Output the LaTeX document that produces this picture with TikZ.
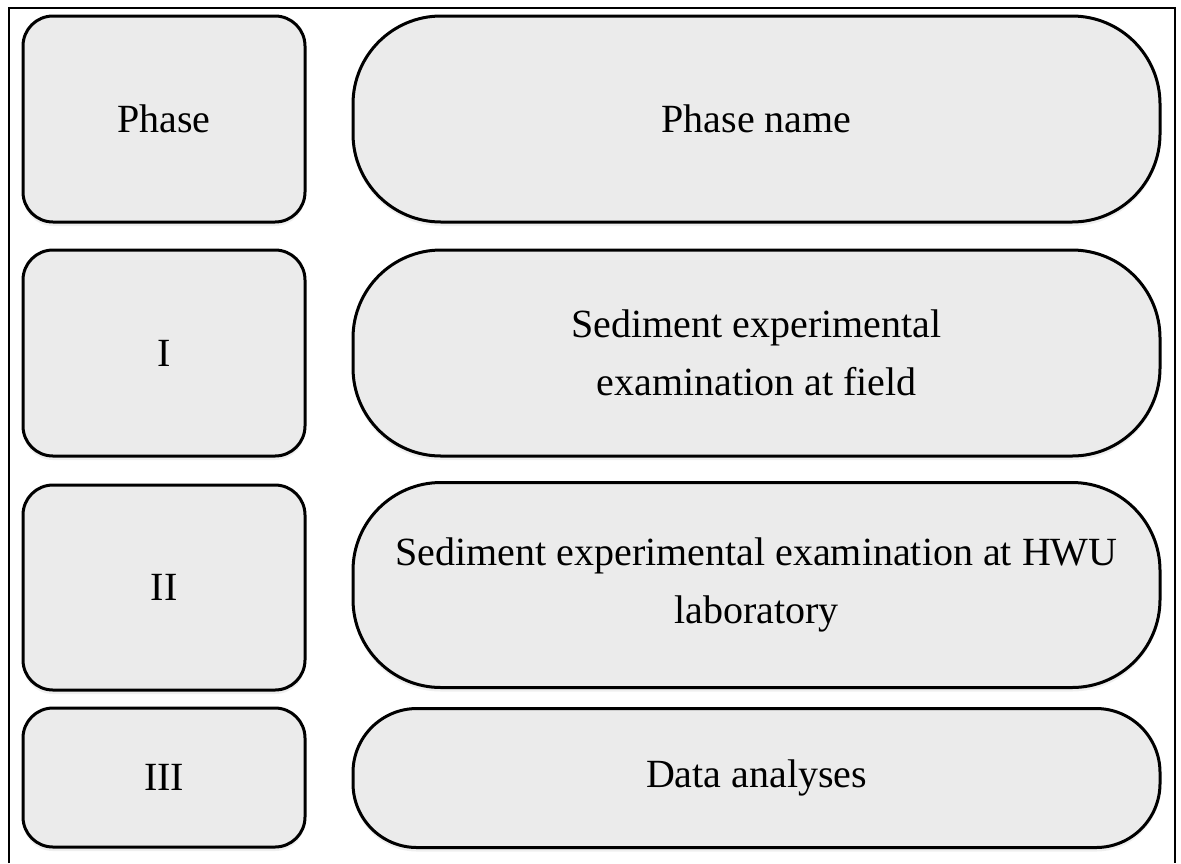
\documentclass[tikz,border=0pt]{standalone}
\usepackage{fontspec}
\setmainfont{Liberation Serif}
\usetikzlibrary{shadows}
\begin{document}
\begin{tikzpicture}[x=0.5pt,y=-0.5pt,
  phasebox/.style={draw=black, line width=1.5pt, fill=boxgray, rounded corners=15pt,
    minimum width=141pt, inner sep=0pt, font=\fontsize{20}{29}\selectfont,
    drop shadow={opacity=0.12, shadow xshift=0pt, shadow yshift=-2pt}},
  namebox/.style={draw=black, line width=1.5pt, fill=boxgray, rounded corners=44pt,
    minimum width=403.5pt, inner sep=0pt, align=center, font=\fontsize{20}{29}\selectfont,
    drop shadow={opacity=0.12, shadow xshift=0pt, shadow yshift=-2pt}},
  frameline/.style={draw=black, line width=1pt}
]
\definecolor{boxgray}{RGB}{235,235,235}
\useasboundingbox (0,0) rectangle (1181,863);
\fill[white] (0,0) rectangle (1181,863);
\coordinate (f1) at (9,863);
\coordinate (f2) at (9,8);
\coordinate (f3) at (1175,8);
\coordinate (f4) at (1175,863);
\draw[frameline] (f1) -- (f2) -- (f3) -- (f4);

\node[phasebox, minimum height=103pt] (p0) at (164,119) {Phase};
\node[phasebox, minimum height=103pt] (p1) at (164,353) {I};
\node[phasebox, minimum height=102.5pt] (p2) at (164,587.5) {II};
\node[phasebox, minimum height=69.5pt] (p3) at (164,777.5) {III};

\node[namebox, minimum height=103pt] (n0) at (756.5,119) {Phase name};
\node[namebox, minimum height=103pt] (n1) at (756.5,353) {Sediment experimental\\examination at field};
\node[namebox, minimum height=102.5pt] (n2) at (756.5,585) {Sediment experimental examination at HWU\\laboratory};
\node[namebox, minimum height=69.5pt, rounded corners=32pt] (n3) at (756.5,778) {Data analyses};
\end{tikzpicture}
\end{document}
